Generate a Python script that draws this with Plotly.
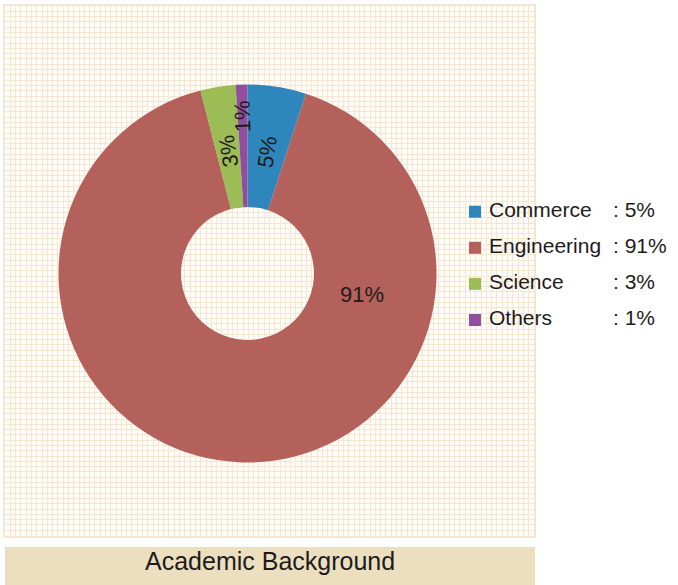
import math
import plotly.graph_objects as go

# ---- data ----
categories = ["Commerce", "Engineering", "Science", "Others"]
values = [5, 91, 3, 1]
colors = ["#2e86bc", "#b4615c", "#9cbc55", "#8f4f9e"]
title_text = "Academic Background"

W, H = 678, 585
FONT = "Liberation Sans, Arial, Helvetica, sans-serif"
TXT = "#1f1b1b"

def px_x(x):
    return x / W

def px_y(y):
    return (H - y) / H

fig = go.Figure()

# empty trace so the background grid subplot is rendered
fig.add_trace(go.Scatter(x=[None], y=[None], xaxis="x", yaxis="y",
                         showlegend=False, hoverinfo="skip"))

# donut
cx, cy, R, r_in = 247.5, 273.5, 189, 66.5
fig.add_trace(go.Pie(
    labels=categories, values=values, sort=False, direction="clockwise", rotation=0,
    hole=r_in / R,
    marker=dict(colors=colors, line=dict(width=0)),
    textinfo="none",
    domain=dict(x=[px_x(cx - R), px_x(cx + R)], y=[px_y(cy + R), px_y(cy - R)]),
    showlegend=False, hoverinfo="label+percent",
))

# radial slice labels (reading outward), derived from the slice angles
label_radius = {"Commerce": 123, "Science": 124, "Others": 157}
annotations = []
total = sum(values)
cum = 0
for c, v in zip(categories, values):
    mid = (cum + v / 2) / total * 360.0
    cum += v
    if c not in label_radius:
        continue
    a = math.radians(mid)
    rr = label_radius[c]
    lx = cx + rr * math.sin(a)
    ly = cy - rr * math.cos(a)
    ang = mid if mid <= 180 else mid - 360
    annotations.append(dict(
        text=f"{v}%", x=px_x(lx), y=px_y(ly), xref="paper", yref="paper",
        showarrow=False, textangle=-(90 - ang),
        font=dict(family=FONT, size=22, color=TXT),
        xanchor="center", yanchor="middle"))

# big slice label
annotations.append(dict(text=f"{values[1]}%", x=px_x(361.7), y=px_y(294),
                        xref="paper", yref="paper", showarrow=False,
                        font=dict(family=FONT, size=22, color=TXT),
                        xanchor="center", yanchor="middle"))
# title in the bottom band
annotations.append(dict(text=title_text, x=px_x(270), y=px_y(561), xref="paper",
                        yref="paper", showarrow=False,
                        font=dict(family=FONT, size=25, color=TXT),
                        xanchor="center", yanchor="middle"))

# legend built on an overlay axis (rows = category index)
S, y0 = 36.1, 211.7
rows = list(range(len(categories)))
fig.add_trace(go.Scatter(
    x=[475] * len(rows), y=rows, mode="markers",
    marker=dict(symbol="square", size=12, color=colors, line=dict(width=0)),
    xaxis="x2", yaxis="y2", showlegend=False, hoverinfo="skip",
))
fig.add_trace(go.Scatter(
    x=[489] * len(rows), y=rows, mode="text", text=categories,
    textposition="middle right",
    textfont=dict(family=FONT, size=21, color=TXT),
    xaxis="x2", yaxis="y2", showlegend=False, hoverinfo="skip",
))
fig.add_trace(go.Scatter(
    x=[613] * len(rows), y=rows, mode="text", text=[f": {v}%" for v in values],
    textposition="middle right",
    textfont=dict(family=FONT, size=21, color=TXT),
    xaxis="x2", yaxis="y2", showlegend=False, hoverinfo="skip",
))

grid_x0, grid_x1, grid_y0, grid_y1 = 5, 534, 6, 535.5
GRID = "#f4e6cf"

fig.update_layout(
    width=W, height=H, margin=dict(l=0, r=0, t=0, b=0),
    paper_bgcolor="white", plot_bgcolor="rgba(0,0,0,0)",
    xaxis=dict(domain=[px_x(grid_x0), px_x(grid_x1)], range=[0, 100], dtick=1,
               showgrid=True, gridcolor=GRID, gridwidth=1.2, zeroline=False,
               showticklabels=False, ticks="", showline=True, linecolor=GRID,
               linewidth=1.6, mirror=True, fixedrange=True, anchor="y"),
    yaxis=dict(domain=[px_y(grid_y1), px_y(grid_y0)], range=[0, 100], dtick=1,
               showgrid=True, gridcolor=GRID, gridwidth=1.2, zeroline=False,
               showticklabels=False, ticks="", showline=True, linecolor=GRID,
               linewidth=1.6, mirror=True, fixedrange=True, anchor="x"),
    xaxis2=dict(domain=[0, 1], range=[0, W], visible=False, anchor="y2", fixedrange=True),
    yaxis2=dict(domain=[0, 1], range=[(H - y0) / S, -y0 / S], visible=False,
                anchor="x2", fixedrange=True),
    shapes=[
        dict(type="rect", xref="x domain", yref="y domain", x0=0, x1=1, y0=0, y1=1,
             fillcolor="#fefcf8", line=dict(width=0), layer="below"),
        dict(type="rect", xref="paper", yref="paper", x0=px_x(5), x1=px_x(535),
             y0=0, y1=px_y(547), fillcolor="#ebdfc0", line=dict(width=0), layer="below"),
    ],
    annotations=annotations,
    hovermode="closest",
)

fig.write_html("out.html", config={"displayModeBar": False},
               post_script="document.body.style.margin='0';")
